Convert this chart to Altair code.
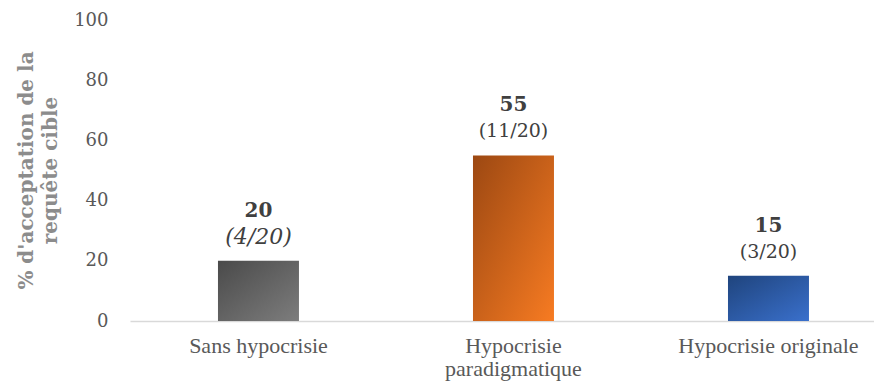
import altair as alt
import pandas as pd

categories = ["Sans hypocrisie", "Hypocrisie paradigmatique", "Hypocrisie originale"]
values = [20, 55, 15]
fractions = ["(4/20)", "(11/20)", "(3/20)"]
y_ticks = [0, 20, 40, 60, 80, 100]

df = pd.DataFrame({"cat": categories, "value": values, "frac": fractions})

gradients = {
    "Sans hypocrisie": ("#4a4a4a", "#7d7d7d"),
    "Hypocrisie paradigmatique": ("#9c4812", "#f77b22"),
    "Hypocrisie originale": ("#1f447d", "#3a70cc"),
}

FONT = "DejaVu Serif"
XFONT = "Liberation Serif"

x_enc = alt.X(
    "cat:N",
    sort=categories,
    title=None,
    scale=alt.Scale(paddingInner=0.6824, paddingOuter=0.3, align=0.575),
    axis=alt.Axis(
        labelAngle=0,
        labelFont=XFONT,
        labelFontSize=22,
        labelColor="#595959",
        labelPadding=14,
        labelLimit=400,
        labelLineHeight=23,
        labelBaseline="top",
        labelExpr="datum.label == 'Hypocrisie paradigmatique' ? ['Hypocrisie', 'paradigmatique'] : datum.label",
        ticks=False,
        domainColor="#d9d9d9",
        domainWidth=1.5,
    ),
)
y_enc = alt.Y(
    "value:Q",
    scale=alt.Scale(domain=[0, 100], nice=False),
    axis=alt.Axis(
        values=y_ticks,
        title=["% d'acceptation de la", "requête cible"],
        titleFont=FONT,
        titleFontSize=20,
        titleFontWeight="bold",
        titleColor="#8c8c8c",
        titleAngle=-90,
        titleBaseline="top",
        titleAlign="center",
        titleX=-114,
        titleY=150,
        titleLineHeight=24,
        labelFont=FONT,
        labelFontSize=18,
        labelColor="#595959",
        labelPadding=22,
        ticks=False,
        domain=False,
        grid=False,
    ),
)

layers = []
for c in categories:
    a, b = gradients[c]
    layers.append(
        alt.Chart(df)
        .transform_filter(alt.datum.cat == c)
        .mark_bar(
            color=alt.Gradient(
                gradient="linear",
                x1=0, y1=0, x2=1, y2=1,
                stops=[alt.GradientStop(color=a, offset=0), alt.GradientStop(color=b, offset=1)],
            )
        )
        .encode(x=x_enc, y=y_enc)
    )

val_text = alt.Chart(df).mark_text(
    font=FONT, fontSize=20, fontWeight="bold", color="#404040", dy=-50, baseline="middle"
).encode(x=alt.X("cat:N", sort=categories), y="value:Q", text="value:Q")

frac_first = alt.Chart(df).transform_filter(alt.datum.cat == categories[0]).mark_text(
    font=FONT, fontSize=22, fontStyle="italic", color="#404040", dy=-24, baseline="middle"
).encode(x=alt.X("cat:N", sort=categories), y="value:Q", text="frac:N")

frac_rest = alt.Chart(df).transform_filter(alt.datum.cat != categories[0]).mark_text(
    font=FONT, fontSize=19, color="#404040", dy=-24, baseline="middle"
).encode(x=alt.X("cat:N", sort=categories), y="value:Q", text="frac:N")

chart = (
    alt.layer(*layers, val_text, frac_first, frac_rest)
    .properties(
        width=744,
        height=301,
        autosize=alt.AutoSizeParams(type="none"),
        padding={"left": 122, "top": 12, "right": 0, "bottom": 61},
    )
    .configure_view(stroke=None)
)

chart.save("out.html", embed_options={"renderer": "svg", "actions": False})
